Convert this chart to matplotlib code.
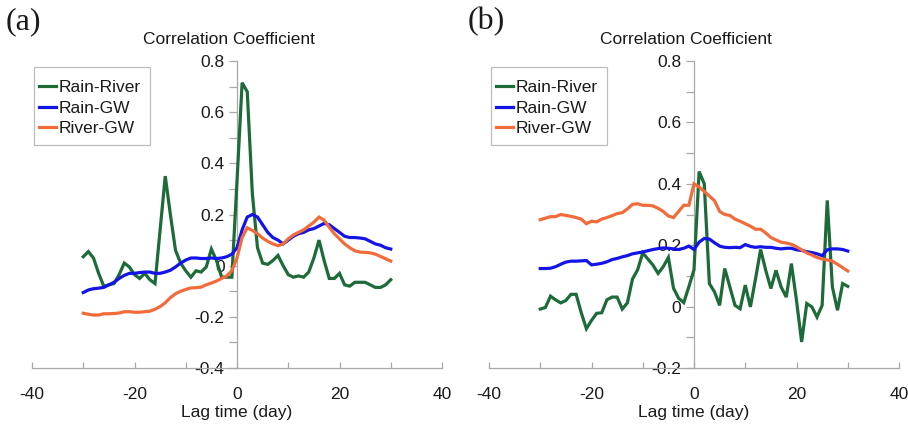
import matplotlib
matplotlib.use("Agg")
import matplotlib.pyplot as plt
from matplotlib.ticker import MultipleLocator
from matplotlib.patches import Rectangle
import numpy as np

plt.rcParams['font.family'] = ['Liberation Sans', 'DejaVu Sans']
plt.rcParams['axes.unicode_minus'] = False

lags = list(range(-30, 31))
series_names = ["Rain-River", "Rain-GW", "River-GW"]
colors = ["#1d6b39", "#1414e8", "#f26b3a"]

# Panel (a)
a_rain_river = [0.035, 0.055, 0.03, -0.03, -0.08, -0.075, -0.07, -0.035, 0.01, -0.005,
                -0.035, -0.05, -0.03, -0.055, -0.07, 0.14, 0.35, 0.20, 0.06, 0.01,
                -0.02, -0.045, -0.02, -0.025, -0.005, 0.065, 0.02, -0.045, -0.045, -0.045,
                0.33, 0.715, 0.68, 0.28, 0.07, 0.01, 0.005, 0.02, 0.04, 0.0,
                -0.035, -0.045, -0.04, -0.045, -0.025, 0.03, 0.1, 0.02, -0.05, -0.05,
                -0.03, -0.075, -0.08, -0.065, -0.065, -0.065, -0.075, -0.085, -0.085, -0.075,
                -0.055]
a_rain_gw = [-0.105, -0.095, -0.09, -0.088, -0.085, -0.075, -0.065, -0.05, -0.038, -0.03,
             -0.03, -0.027, -0.025, -0.025, -0.03, -0.03, -0.025, -0.018, -0.005, 0.01,
             0.022, 0.03, 0.03, 0.028, 0.028, 0.03, 0.028, 0.03, 0.035, 0.045,
             0.07, 0.14, 0.19, 0.2, 0.19, 0.16, 0.13, 0.11, 0.1, 0.085,
             0.1, 0.115, 0.125, 0.13, 0.14, 0.145, 0.155, 0.165, 0.16, 0.145,
             0.13, 0.115, 0.11, 0.11, 0.108, 0.105, 0.095, 0.085, 0.08, 0.07,
             0.065]
a_river_gw = [-0.186, -0.19, -0.193, -0.193, -0.188, -0.188, -0.187, -0.185, -0.18, -0.18,
              -0.182, -0.182, -0.18, -0.178, -0.17, -0.16, -0.145, -0.125, -0.11, -0.1,
              -0.093, -0.087, -0.086, -0.084, -0.075, -0.068, -0.06, -0.05, -0.04, -0.02,
              0.03, 0.11, 0.148, 0.138, 0.125, 0.108, 0.095, 0.085, 0.078, 0.085,
              0.105, 0.12, 0.13, 0.14, 0.155, 0.17, 0.19, 0.178, 0.15, 0.125,
              0.105, 0.085, 0.07, 0.058, 0.053, 0.052, 0.05, 0.045, 0.036, 0.027,
              0.018]

# Panel (b)
b_rain_river = [-0.008, -0.003, 0.034, 0.022, 0.012, 0.02, 0.04, 0.04, -0.02, -0.072,
                -0.045, -0.022, -0.02, 0.022, 0.031, 0.031, -0.008, 0.012, 0.09, 0.12,
                0.175, 0.155, 0.135, 0.108, 0.13, 0.16, 0.06, 0.027, 0.013, 0.065,
                0.12, 0.44, 0.4, 0.075, 0.048, 0.004, 0.124, 0.064, 0.004, -0.007,
                0.07, -0.001, 0.09, 0.186, 0.118, 0.059, 0.118, 0.064, 0.031, 0.14,
                0.02, -0.115, 0.01, -0.001, -0.034, 0.004, 0.346, 0.064, -0.012, 0.075,
                0.066]
b_rain_gw = [0.124, 0.124, 0.125, 0.13, 0.138, 0.145, 0.148, 0.148, 0.149, 0.15,
             0.136, 0.138, 0.141, 0.146, 0.153, 0.157, 0.162, 0.166, 0.172, 0.175,
             0.178, 0.182, 0.186, 0.189, 0.191, 0.19, 0.188, 0.186, 0.19, 0.197,
             0.186, 0.21, 0.222, 0.22, 0.208, 0.197, 0.193, 0.192, 0.193, 0.192,
             0.202, 0.196, 0.193, 0.195, 0.193, 0.193, 0.19, 0.188, 0.19, 0.19,
             0.185, 0.183, 0.179, 0.176, 0.172, 0.166, 0.185, 0.188, 0.188, 0.186,
             0.181]
b_river_gw = [0.283, 0.288, 0.293, 0.293, 0.3, 0.297, 0.294, 0.29, 0.285, 0.27,
              0.278, 0.276, 0.285, 0.29, 0.296, 0.303, 0.306, 0.318, 0.333, 0.335,
              0.33, 0.33, 0.328, 0.32, 0.31, 0.295, 0.29, 0.31, 0.33, 0.33,
              0.4, 0.39, 0.375, 0.36, 0.345, 0.31, 0.3, 0.297, 0.285, 0.278,
              0.27, 0.262, 0.252, 0.252, 0.24, 0.225, 0.217, 0.21, 0.207, 0.203,
              0.195, 0.185, 0.175, 0.168, 0.16, 0.155, 0.152, 0.148, 0.138, 0.127,
              0.116]

x_ticks = [-40, -20, 0, 20, 40]
a_yticks = [-0.4, -0.2, 0, 0.2, 0.4, 0.6, 0.8]
b_yticks = [-0.2, 0, 0.2, 0.4, 0.6, 0.8]
panel_labels = ["(a)", "(b)"]

W, H = 908, 426
fig = plt.figure(figsize=(W / 100, H / 100), dpi=100)

FS = 12.5
spine_col = "#a8a8a8"
text_col = "#1a1a1a"


def tick_fmt(v):
    if abs(v) < 1e-9:
        return "0"
    return f"{v:.1f}"


def make_panel(left_px, series, yticks, label, label_x):
    ax = fig.add_axes([left_px / W, (H - 368) / H, 410 / W, 307 / H])
    for vals, name, c in zip(series, series_names, colors):
        ax.plot(lags, vals, color=c, lw=2.3, label=name, zorder=3,
                solid_joinstyle='miter')
    ax.set_xlim(-40, 40)
    ax.set_ylim(yticks[0], yticks[-1])
    ax.spines['left'].set_position(('data', 0))
    ax.spines['top'].set_visible(False)
    ax.spines['right'].set_visible(False)
    for s in ('left', 'bottom'):
        ax.spines[s].set_color(spine_col)
        ax.spines[s].set_linewidth(0.9)
    ax.set_xticks(x_ticks)
    ax.xaxis.set_minor_locator(MultipleLocator(10))
    ax.set_yticks(yticks)
    ax.set_yticklabels([tick_fmt(v) for v in yticks])
    ax.yaxis.set_minor_locator(MultipleLocator(0.1))
    ax.tick_params(axis='x', which='both', direction='in', length=4, width=0.9,
                   color=spine_col, labelsize=FS, labelcolor=text_col, pad=14)
    ax.tick_params(axis='y', which='both', direction='out', length=6, width=0.9,
                   color=spine_col, labelsize=FS, labelcolor=text_col, pad=3)
    ax.set_xlabel("Lag time (day)", fontsize=FS, color=text_col, labelpad=2)
    fig.text((left_px + 197) / W, 1 - 40 / H, "Correlation Coefficient",
             ha='center', va='center', fontsize=FS, color=text_col)
    ax.patch.set_visible(False)
    leg = ax.legend(loc='upper left', bbox_to_anchor=((left_px - 6) / W, 1 - 67 / H),
                    bbox_transform=fig.transFigure, fontsize=FS, frameon=False,
                    handlelength=1.0, handletextpad=0.15,
                    labelspacing=0.32, borderpad=0.74, borderaxespad=0)
    for t in leg.get_texts():
        t.set_color(text_col)
    fig.add_artist(Rectangle(((left_px + 2) / W, 1 - 145 / H), 116 / W, 78 / H,
                             transform=fig.transFigure, fill=False,
                             edgecolor="#bdbdbd", linewidth=0.9))
    fig.text(label_x / W, 1 - 22 / H, label, fontsize=23, family='Liberation Serif',
             ha='left', va='center', color=text_col)
    return ax


make_panel(32, [a_rain_river, a_rain_gw, a_river_gw], a_yticks, panel_labels[0], 6)
make_panel(489, [b_rain_river, b_rain_gw, b_river_gw], b_yticks, panel_labels[1], 468)

fig.savefig("out.png", dpi=100)
